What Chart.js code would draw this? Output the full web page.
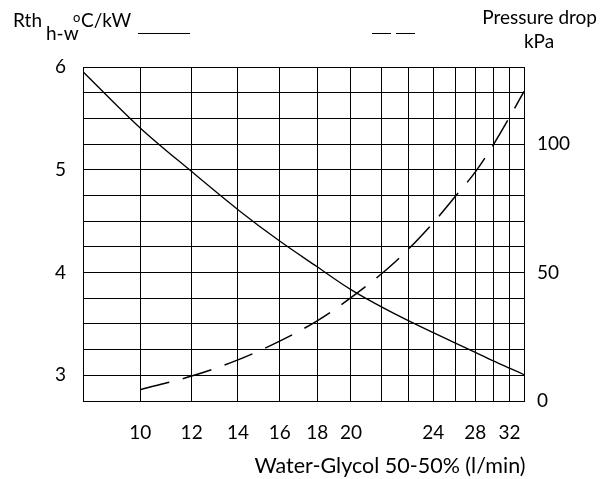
<!DOCTYPE html>
<html><head><meta charset="utf-8">
<script src="https://cdn.jsdelivr.net/npm/chart.js@4.4.0/dist/chart.umd.min.js"></script>
<style>html,body{margin:0;padding:0;background:#fff;}#wrap{width:608px;height:479px;position:relative;}</style>
</head><body><div id="wrap"><canvas id="c" width="608" height="479"></canvas></div>
<script>
// ---- data ----
const flow = [8, 10, 12, 14, 16, 18, 20, 22, 24, 26, 28, 30, 32, 34];
const rth = [5.954, 5.407, 4.982, 4.612, 4.306, 4.056, 3.834, 3.595, 3.415, 3.313, 3.224, 3.141, 3.070, 3.007];
const pressureDrop = [null, 4.4, 9.7, 16.0, 23.3, 31.2, 40.2, 54.2, 69.4, 79.7, 89.2, 99.7, 110.4, 120.5];
const xGridValues = [8, 10, 12, 14, 16, 18, 20, 21.333, 22.667, 24, 26, 28, 30, 32, 34];
const xTickLabels = [10, 12, 14, 16, 18, 20, 24, 28, 32];
const yLeftLabels = [3, 4, 5, 6];
const yRightLabels = [0, 50, 100];

// ---- warped flow axis (grid index geometric spacing) ----
const knotFlow = [8, 20, 24, 34];
const knotIdx = [0, 6, 9, 14];
const R = 0.9, N = 14;
function interp(v, xs, ys) {
  let i = 0;
  while (i < xs.length - 2 && v > xs[i + 1]) i++;
  return ys[i] + (v - xs[i]) * (ys[i + 1] - ys[i]) / (xs[i + 1] - xs[i]);
}
const flowToFrac = v => { const i = interp(v, knotFlow, knotIdx); return (1 - Math.pow(R, i)) / (1 - Math.pow(R, N)); };
const fracToFlow = f => { const i = Math.log(1 - f * (1 - Math.pow(R, N))) / Math.log(R); return interp(i, knotIdx, knotFlow); };

class WarpScale extends Chart.LinearScale {
  getPixelForValue(v) { return this.getPixelForDecimal(flowToFrac(v)); }
  getValueForPixel(p) { return fracToFlow(this.getDecimalForPixel(p)); }
}
WarpScale.id = 'warp';
WarpScale.defaults = Chart.LinearScale.defaults;
Chart.register(WarpScale);

const FONT = 'Lato';
const headerPlugin = {
  id: 'header',
  afterDraw(chart) {
    const ctx = chart.ctx;
    ctx.save();
    ctx.fillStyle = '#000';
    ctx.textBaseline = 'alphabetic';
    ctx.textAlign = 'left';
    ctx.font = '19px ' + FONT;
    ctx.fillText('Rth', 13, 27);
    ctx.fillText('h-w', 46, 40);
    ctx.font = '13px ' + FONT;
    ctx.fillText('o', 73, 22);
    ctx.font = '19px ' + FONT;
    ctx.fillText('C/kW', 81, 27);
    ctx.strokeStyle = '#000';
    ctx.lineWidth = 1.2;
    ctx.beginPath();
    ctx.moveTo(138, 33.5); ctx.lineTo(190, 33.5);
    ctx.moveTo(372, 33.5); ctx.lineTo(391, 33.5);
    ctx.moveTo(396, 33.5); ctx.lineTo(415, 33.5);
    ctx.stroke();
    ctx.textAlign = 'right';
    ctx.fillText('Pressure drop', 597, 24);
    ctx.textAlign = 'center';
    ctx.fillText('kPa', 539, 48);
    ctx.font = '21.5px ' + FONT;
    ctx.fillText('Water-Glycol 50-50% (l/min)', 390, 473);
    ctx.restore();
  }
};

const tickFont = { family: FONT, size: 19 };
new Chart(document.getElementById('c'), {
  type: 'line',
  data: {
    datasets: [
      {
        label: 'Rth',
        data: flow.map((f, i) => ({ x: f, y: rth[i] })),
        yAxisID: 'y',
        borderColor: '#000', borderWidth: 1.3, pointRadius: 0,
        cubicInterpolationMode: 'monotone', fill: false
      },
      {
        label: 'Pressure drop',
        data: flow.map((f, i) => ({ x: f, y: pressureDrop[i] })),
        yAxisID: 'y2',
        borderColor: '#000', borderWidth: 1.5, pointRadius: 0,
        borderDash: [30, 14], cubicInterpolationMode: 'monotone', fill: false
      }
    ]
  },
  options: {
    responsive: false, animation: false,
    layout: { padding: { top: 67, left: 0, right: 0, bottom: 0 } },
    plugins: { legend: { display: false }, tooltip: { enabled: false } },
    scales: {
      x: {
        type: 'warp', min: 8, max: 34,
        afterBuildTicks: s => { s.ticks = xGridValues.map(v => ({ value: v })); },
        afterFit: s => { s.height = 78; },
        grid: { color: '#000', lineWidth: 1, drawTicks: false },
        border: { display: true, color: '#000', width: 1 },
        ticks: {
          autoSkip: false, maxRotation: 0, padding: 20, color: '#000', font: tickFont,
          callback: v => xTickLabels.includes(v) ? String(v) : ''
        }
      },
      y: {
        position: 'left', min: 2.75, max: 6,
        afterBuildTicks: s => { const t = []; for (let k = 0; k <= 13; k++) t.push({ value: 2.75 + k * 0.25 }); s.ticks = t; },
        afterFit: s => { s.width = 83; },
        grid: { color: '#000', lineWidth: 1, drawTicks: false },
        border: { display: true, color: '#000', width: 1 },
        ticks: {
          autoSkip: false, padding: 17, color: '#000', font: tickFont,
          callback: v => yLeftLabels.includes(v) ? String(v) : ''
        }
      },
      y2: {
        position: 'right', min: 0, max: 130,
        afterBuildTicks: s => { const t = []; for (let k = 0; k <= 13; k++) t.push({ value: k * 10 }); s.ticks = t; },
        afterFit: s => { s.width = 84; },
        grid: { display: false, drawTicks: false },
        border: { display: true, color: '#000', width: 1 },
        ticks: {
          autoSkip: false, padding: 13, color: '#000', font: tickFont,
          callback: v => yRightLabels.includes(v) ? String(v) : ''
        }
      }
    }
  },
  plugins: [headerPlugin]
});
</script></body></html>
